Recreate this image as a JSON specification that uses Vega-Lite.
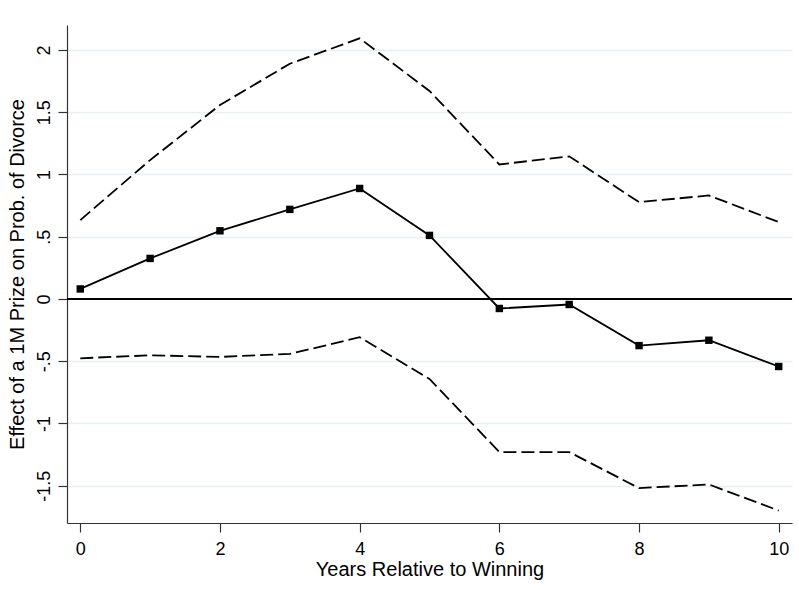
{
  "$schema": "https://vega.github.io/schema/vega-lite/v6.json",
  "description": "Effect of a 1M prize on probability of divorce by years relative to winning",
  "autosize": "none",
  "padding": {"left": 67, "top": 25, "right": 7, "bottom": 81},
  "width": 725,
  "height": 498,
  "background": "white",
  "config": {
    "font": "Liberation Sans",
    "view": {"stroke": null},
    "axis": {
      "labelFont": "Liberation Sans",
      "titleFont": "Liberation Sans",
      "labelFontSize": 18,
      "titleFontSize": 20,
      "labelColor": "black",
      "titleColor": "black",
      "titleFontWeight": "normal",
      "domainColor": "#333333",
      "tickColor": "#333333",
      "domainWidth": 1.2,
      "tickWidth": 1.2,
      "tickSize": 9
    }
  },
  "data": {
    "values": [
      {"year": 0, "est": 0.08, "lo": -0.477, "hi": 0.633},
      {"year": 1, "est": 0.325, "lo": -0.453, "hi": 1.115},
      {"year": 2, "est": 0.547, "lo": -0.466, "hi": 1.557},
      {"year": 3, "est": 0.719, "lo": -0.442, "hi": 1.889},
      {"year": 4, "est": 0.887, "lo": -0.308, "hi": 2.093},
      {"year": 5, "est": 0.51, "lo": -0.643, "hi": 1.67},
      {"year": 6, "est": -0.077, "lo": -1.23, "hi": 1.08},
      {"year": 7, "est": -0.045, "lo": -1.23, "hi": 1.145},
      {"year": 8, "est": -0.375, "lo": -1.52, "hi": 0.777},
      {"year": 9, "est": -0.332, "lo": -1.49, "hi": 0.831},
      {"year": 10, "est": -0.543, "lo": -1.70, "hi": 0.617}
    ]
  },
  "encoding": {
    "x": {
      "field": "year",
      "type": "quantitative",
      "title": "Years Relative to Winning",
      "scale": {"domain": [-0.19, 10.19], "nice": false, "zero": false},
      "axis": {"values": [0, 2, 4, 6, 8, 10], "grid": false, "labelPadding": 8, "titlePadding": 1}
    }
  },
  "layer": [
    {
      "mark": {"type": "rule", "color": "black", "strokeWidth": 2},
      "encoding": {"y": {"datum": 0, "type": "quantitative"}, "x": null}
    },
    {
      "mark": {"type": "line", "color": "black", "strokeWidth": 1.8, "strokeDash": [13, 5]},
      "encoding": {
        "y": {
          "field": "hi",
          "type": "quantitative",
          "title": "Effect of a 1M Prize on Prob. of Divorce",
          "scale": {"domain": [-1.8, 2.2], "nice": false, "zero": false},
          "axis": {
            "values": [-1.5, -1, -0.5, 0, 0.5, 1, 1.5, 2],
            "labelExpr": "replace(toString(datum.value), '0.', '.')",
            "labelAngle": -90,
            "labelAlign": "center",
            "labelBaseline": "bottom",
            "labelPadding": 5,
            "titlePadding": 8,
            "grid": true,
            "gridColor": "#e6eff1",
            "gridWidth": 1.5
          }
        }
      }
    },
    {
      "mark": {"type": "line", "color": "black", "strokeWidth": 1.8, "strokeDash": [13, 5]},
      "encoding": {"y": {"field": "lo", "type": "quantitative"}}
    },
    {
      "mark": {"type": "line", "color": "black", "strokeWidth": 1.8},
      "encoding": {"y": {"field": "est", "type": "quantitative"}}
    },
    {
      "mark": {"type": "point", "shape": "square", "filled": true, "color": "black", "size": 55, "opacity": 1},
      "encoding": {"y": {"field": "est", "type": "quantitative"}}
    }
  ]
}
